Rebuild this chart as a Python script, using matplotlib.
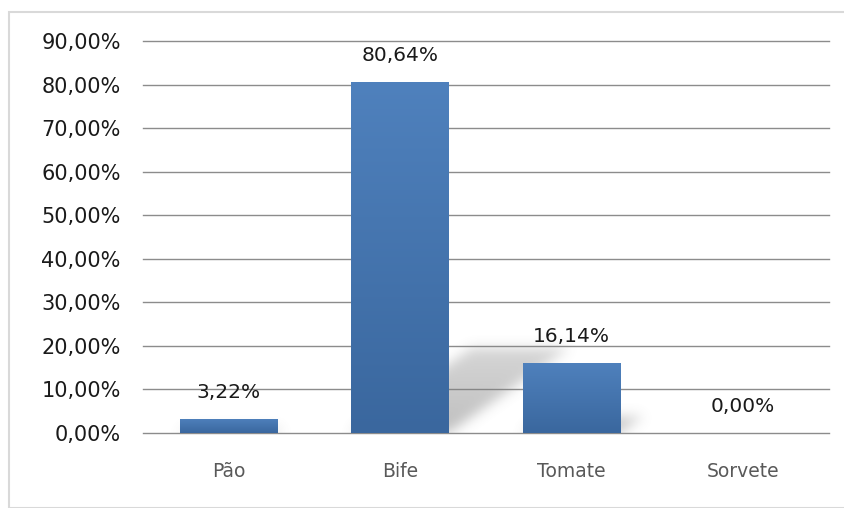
import matplotlib.pyplot as plt
import numpy as np
from matplotlib.colors import LinearSegmentedColormap
from matplotlib.patches import Rectangle

categories = ["Pão", "Bife", "Tomate", "Sorvete"]
values = [3.22, 80.64, 16.14, 0.00]
value_labels = ["3,22%", "80,64%", "16,14%", "0,00%"]
y_ticks = [0, 10, 20, 30, 40, 50, 60, 70, 80, 90]
y_tick_labels = ["0,00%", "10,00%", "20,00%", "30,00%", "40,00%",
                 "50,00%", "60,00%", "70,00%", "80,00%", "90,00%"]


def blur(a, sigma):
    r = int(3 * sigma)
    k = np.exp(-0.5 * (np.arange(-r, r + 1) / sigma) ** 2)
    k /= k.sum()
    a = np.apply_along_axis(lambda m: np.convolve(m, k, mode="same"), 0, a)
    a = np.apply_along_axis(lambda m: np.convolve(m, k, mode="same"), 1, a)
    return a


fig = plt.figure(figsize=(8.45, 5.08), dpi=100)
fig.patches.append(Rectangle((9 / 845, 0.0), 1.0, 1 - 12 / 508, transform=fig.transFigure,
                             fill=False, edgecolor="#d9d9d9", linewidth=1.5))
ax = fig.add_axes([143 / 845, 1 - 433 / 508, 686 / 845, 392 / 508])

x = np.arange(len(categories))
width = 0.57
xlim = (-0.5, len(categories) - 0.5)
ylim = (0, 90)
cmap = LinearSegmentedColormap.from_list("bar", ["#3a679e", "#4f81bd"])
grad = np.linspace(0, 1, 256).reshape(-1, 1)

bars = ax.bar(x, values, width=width, color="none", edgecolor="none", zorder=3)

# soft sheared shadow cast by each bar
gx = np.linspace(xlim[0], xlim[1], 686)
gy = np.linspace(ylim[0], ylim[1], 392)
GX, GY = np.meshgrid(gx, gy)
shadow = np.zeros_like(GX)
for bar in bars:
    h = bar.get_height()
    if h <= 0:
        continue
    x0 = bar.get_x()
    x1 = x0 + bar.get_width()
    hs = 0.24 * h
    dx = 0.036 * hs
    shift = dx * GY / hs
    m = (GY <= hs) & (GX >= x0 + shift) & (GX <= x1 + shift)
    shadow += m * (1.0 - 0.35 * GY / hs)
shadow = np.clip(blur(shadow, 6), 0, 1)
rgba = np.zeros(shadow.shape + (4,))
rgba[..., :3] = 0.5
rgba[..., 3] = shadow * 0.5
ax.imshow(rgba, origin="lower", aspect="auto", extent=(*xlim, *ylim), zorder=2,
          interpolation="bilinear")

for bar in bars:
    h = bar.get_height()
    if h <= 0:
        continue
    x0 = bar.get_x()
    im = ax.imshow(grad, cmap=cmap, aspect="auto", origin="lower",
                   extent=(x0, x0 + bar.get_width(), 0, h), zorder=3)
    im.set_clip_path(bar)

for i, v in enumerate(values):
    ax.text(x[i], v + 3.8, value_labels[i], ha="center", va="bottom",
            fontsize=14.5, color="#1a1a1a", zorder=4)

ax.set_xlim(*xlim)
ax.set_ylim(*ylim)
ax.set_yticks(y_ticks)
ax.set_yticklabels(y_tick_labels, fontsize=15, color="#1a1a1a")
ax.set_xticks(x)
ax.set_xticklabels(categories, fontsize=13.5, color="#595959")
ax.tick_params(axis="both", length=0)
ax.tick_params(axis="y", pad=16)
ax.tick_params(axis="x", pad=21)
ax.grid(axis="y", color="#8c8c8c", linewidth=1.0, zorder=0)
for line in ax.get_ygridlines():
    line.set_clip_on(False)
ax.set_axisbelow(True)
for s in ax.spines.values():
    s.set_visible(False)

fig.savefig("out.png", dpi=100)
